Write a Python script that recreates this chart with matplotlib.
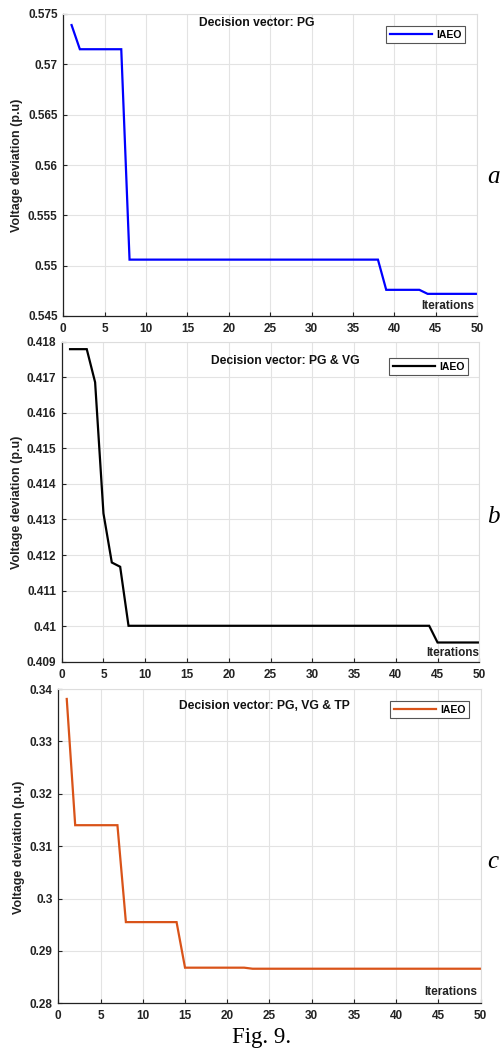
import matplotlib
matplotlib.use("Agg")
import matplotlib.pyplot as plt
import numpy as np

# ---- data -------------------------------------------------------------
iters_a = [1, 2, 7, 8, 38, 39, 43, 44, 50]
vd_pg = [0.5739, 0.5715, 0.5715, 0.5506, 0.5506, 0.5476, 0.5476, 0.5472, 0.5472]

iters_b = [1, 3, 4, 5, 6, 7, 8, 44, 45, 50]
vd_pg_vg = [0.41779, 0.41779, 0.41686, 0.41317, 0.41179, 0.41167, 0.41001,
            0.41001, 0.40954, 0.40954]

iters_c = [1, 2, 7, 8, 14, 15, 22, 23, 50]
vd_pg_vg_tp = [0.3381, 0.3140, 0.3140, 0.2955, 0.2955, 0.2868, 0.2868,
               0.2866, 0.2866]

titles = ["Decision vector: PG", "Decision vector: PG & VG",
          "Decision vector: PG, VG & TP"]
colors = ["#0000ff", "#000000", "#d95319"]
letters = ["a", "b", "c"]
yticks_list = [
    [0.545, 0.55, 0.555, 0.56, 0.565, 0.57, 0.575],
    [0.409, 0.41, 0.411, 0.412, 0.413, 0.414, 0.415, 0.416, 0.417, 0.418],
    [0.28, 0.29, 0.30, 0.31, 0.32, 0.33, 0.34],
]
ytick_labels = [
    ["0.545", "0.55", "0.555", "0.56", "0.565", "0.57", "0.575"],
    ["0.409", "0.41", "0.411", "0.412", "0.413", "0.414", "0.415", "0.416",
     "0.417", "0.418"],
    ["0.28", "0.29", "0.3", "0.31", "0.32", "0.33", "0.34"],
]
xticks = [0, 5, 10, 15, 20, 25, 30, 35, 40, 45, 50]

# ---- layout (pixel boxes: left, top, right, bottom) ------------------
W, H = 502, 1050
boxes = [(63.3, 14, 477.3, 316), (61.7, 341.7, 479.3, 661.7),
         (58.3, 689, 480.7, 1003.3)]
title_xy = [(257, 23), (285, 361), (264, 706)]
legend_tr = [(465, 26), (468, 358), (469, 701)]
iter_xy = [(474, 306), (479, 653), (477, 992)]
ylab_xy = [(17.5, 165), (17, 502), (19, 847)]
letter_xy = [(487, 177), (487, 517), (487, 862)]

plt.rcParams["font.family"] = ["Liberation Sans", "DejaVu Sans"]

fig = plt.figure(figsize=(W / 100, H / 100), dpi=100)
fig.patch.set_facecolor("white")


def fx(px):
    return px / W


def fy(py):
    return 1 - py / H


series = [(iters_a, vd_pg), (iters_b, vd_pg_vg), (iters_c, vd_pg_vg_tp)]

for i, (xs, ys) in enumerate(series):
    l, t, r, b = boxes[i]
    ax = fig.add_axes([fx(l), fy(b), fx(r) - fx(l), fy(t) - fy(b)])
    ax.plot(xs, ys, color=colors[i], lw=1.6, label="IAEO", solid_joinstyle="miter")
    ax.set_xlim(0, 50)
    yt = yticks_list[i]
    ax.set_ylim(yt[0], yt[-1])
    ax.set_xticks(xticks)
    ax.set_xticklabels([str(v) for v in xticks])
    ax.set_yticks(yt)
    ax.set_yticklabels(ytick_labels[i])
    ax.grid(True, color="#e3e3e3", lw=0.8)
    ax.set_axisbelow(True)
    for side in ["top", "right"]:
        ax.spines[side].set_color("#dddddd")
        ax.spines[side].set_linewidth(0.8)
    for side in ["left", "bottom"]:
        ax.spines[side].set_color("#222222")
        ax.spines[side].set_linewidth(0.9)
    ax.tick_params(direction="in", length=3, width=0.8, color="#222222",
                   labelsize=8.5, top=False, right=False)
    ax.tick_params(axis="x", pad=5)
    ax.tick_params(axis="y", pad=4)
    for lab in ax.get_xticklabels() + ax.get_yticklabels():
        lab.set_fontweight("bold")
        lab.set_color("#222222")

    # title inside the axes
    fig.text(fx(title_xy[i][0]), fy(title_xy[i][1]), titles[i],
             ha="center", va="center", fontsize=8.7, fontweight="bold",
             color="#111111")
    # axis labels
    fig.text(fx(iter_xy[i][0]), fy(iter_xy[i][1]), "Iterations",
             ha="right", va="center", fontsize=8.5, fontweight="bold",
             color="#222222")
    fig.text(fx(ylab_xy[i][0]), fy(ylab_xy[i][1]), "Voltage deviation (p.u)",
             ha="center", va="center", rotation=90, fontsize=9,
             fontweight="bold", color="#222222")
    # legend
    leg = ax.legend(loc="upper right",
                    bbox_to_anchor=(fx(legend_tr[i][0]), fy(legend_tr[i][1])),
                    bbox_transform=fig.transFigure, borderaxespad=0,
                    fancybox=False, framealpha=1, edgecolor="#555555",
                    prop={"size": 7.5, "weight": "bold"}, handlelength=4.0,
                    handletextpad=0.4, borderpad=0.35)
    leg.get_frame().set_linewidth(0.8)
    # panel letter
    fig.text(fx(letter_xy[i][0]), fy(letter_xy[i][1]), letters[i],
             ha="left", va="center", fontsize=18, style="italic",
             family=["Liberation Serif", "DejaVu Serif"])

fig.text(fx(262), fy(1037), "Fig. 9.", ha="center", va="center",
         fontsize=16.5, family=["Liberation Serif", "DejaVu Serif"])

fig.savefig("out.png", dpi=100, facecolor="white")
